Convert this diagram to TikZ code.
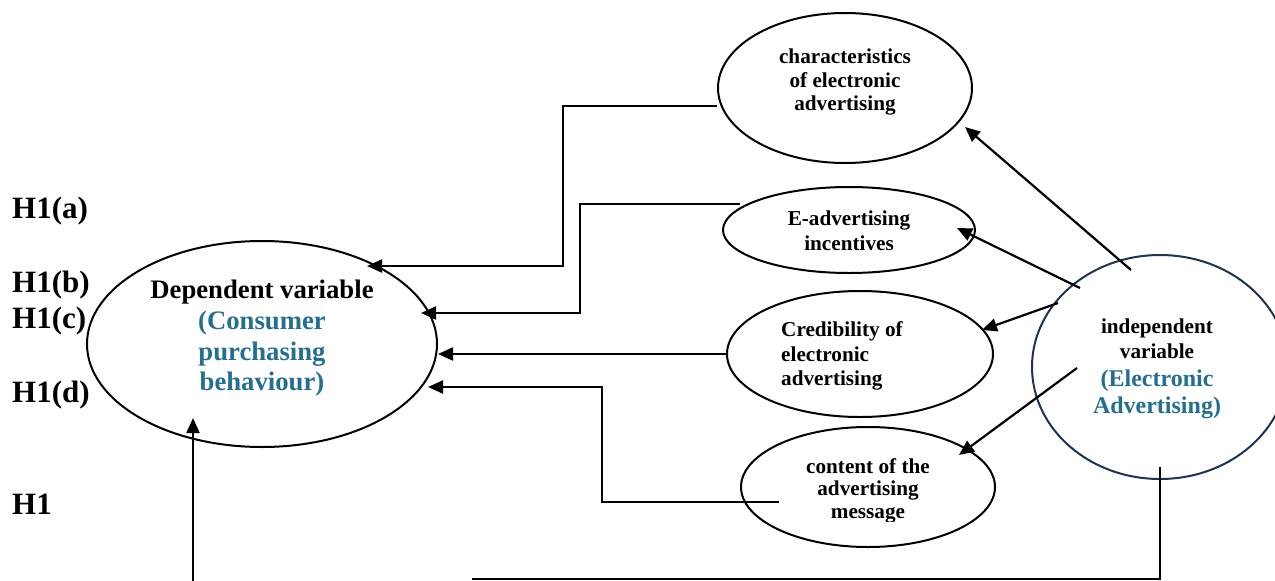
\documentclass[tikz,border=0pt]{standalone}
\usepackage{fontspec}
\setmainfont{Liberation Serif}
\usetikzlibrary{shapes.geometric,arrows.meta}
\definecolor{accblue}{RGB}{35,110,145}
\definecolor{navyline}{RGB}{28,52,80}
\begin{document}
\begin{tikzpicture}[x=1pt,y=-1pt,
  oval/.style={draw,ellipse,line width=2pt,inner sep=0pt},
  conn/.style={line width=2.2pt},
  arr/.style={conn,-{Triangle[length=15pt,width=13pt]}},
  hlab/.style={anchor=base west,inner sep=0pt,font=\fontsize{31}{37}\selectfont\bfseries},
  big/.style={anchor=base,inner sep=0pt,font=\fontsize{26.7}{30}\selectfont\bfseries},
  small/.style={anchor=base,inner sep=0pt,font=\fontsize{21.2}{24}\selectfont\bfseries},
  mid/.style={anchor=base,inner sep=0pt,font=\fontsize{24}{27}\selectfont\bfseries},
  blue/.style={text=accblue}]
\useasboundingbox (0,0) rectangle (1275,581);
\clip (0,0) rectangle (1275,581);

% hypothesis labels
\node[hlab] (ha) at (12,218) {H1(a)};
\node[hlab] (hb) at (12,292) {H1(b)};
\node[hlab] (hc) at (12,328) {H1(c)};
\node[hlab] (hd) at (12,402) {H1(d)};
\node[hlab] (h1) at (12,514) {H1};

% ellipses
\node[oval,minimum width=350,minimum height=206] (dep) at (262,344) {};
\node[oval,minimum width=254,minimum height=150] (char) at (845,88) {};
\node[oval,minimum width=252,minimum height=86] (eadv) at (849,230) {};
\node[oval,minimum width=266,minimum height=126] (cred) at (860,354) {};
\node[oval,minimum width=254,minimum height=120] (cont) at (868,487) {};
\node[oval,draw=navyline,minimum width=256,minimum height=224] (ind) at (1160,367) {};

% texts
\node[big] (d1) at (262,298) {Dependent variable};
\node[big,blue] (d2) at (262,329) {(Consumer};
\node[big,blue] (d3) at (262,360) {purchasing};
\node[big,blue] (d4) at (262,390) {behaviour)};

\node[small] (c1) at (845,63) {characteristics};
\node[small] (c2) at (845,87) {of electronic};
\node[small] (c3) at (845,110) {advertising};

\node[small] (e1) at (849,225) {E-advertising};
\node[small] (e2) at (849,250) {incentives};

\node[small,anchor=base west] (r1) at (781,336) {Credibility of};
\node[small,anchor=base west] (r2) at (781,361) {electronic};
\node[small,anchor=base west] (r3) at (781,385) {advertising};

\begin{scope}
\clip (700,420) rectangle (1000,521);
\node[small] (m1) at (868,473) {content of the};
\node[small] (m2) at (868,495) {advertising};
\node[small] (m3) at (868,518) {message};
\end{scope}

\node[small] (i1) at (1157,333) {independent};
\node[small] (i2) at (1157,358) {variable};
\node[mid,blue] (i3) at (1157,386) {(Electronic};
\node[mid,blue] (i4) at (1157,413) {Advertising)};

% connector points
\coordinate (tA) at (367,266);
\coordinate (tB) at (421,313);
\coordinate (tD) at (428,387);
\coordinate (sB) at (740,204);
\coordinate (sD) at (779,502);
\coordinate (s1) at (1131,270);
\coordinate (s2) at (1080,288);
\coordinate (s3) at (1058,303);
\coordinate (s4) at (1077,368);
\coordinate (q1) at (965,127);
\coordinate (q2) at (957,228);
\coordinate (q3) at (982,330);
\coordinate (q4) at (959,455);
\coordinate (up) at (193,418);
\coordinate (bot) at (193,581);
\coordinate (br) at (1160,467);
\coordinate (bl) at (472,579);

% connectors into dependent variable
\draw[arr] (char.west |- 0,106) -| (563,266) -- (tA);
\draw[arr] (sB) -| (580,313) -- (tB);
\draw[arr] (cred.west) -- (cred.west -| dep.east);
\draw[arr] (sD) -| (602,387) -- (tD);
\draw[arr] (bot) -- (up);
\draw[conn] (br) |- (bl);

% arrows from independent variable
\draw[arr] (s1) -- (q1);
\draw[arr] (s2) -- (q2);
\draw[arr] (s3) -- (q3);
\draw[arr] (s4) -- (q4);
\end{tikzpicture}
\end{document}
